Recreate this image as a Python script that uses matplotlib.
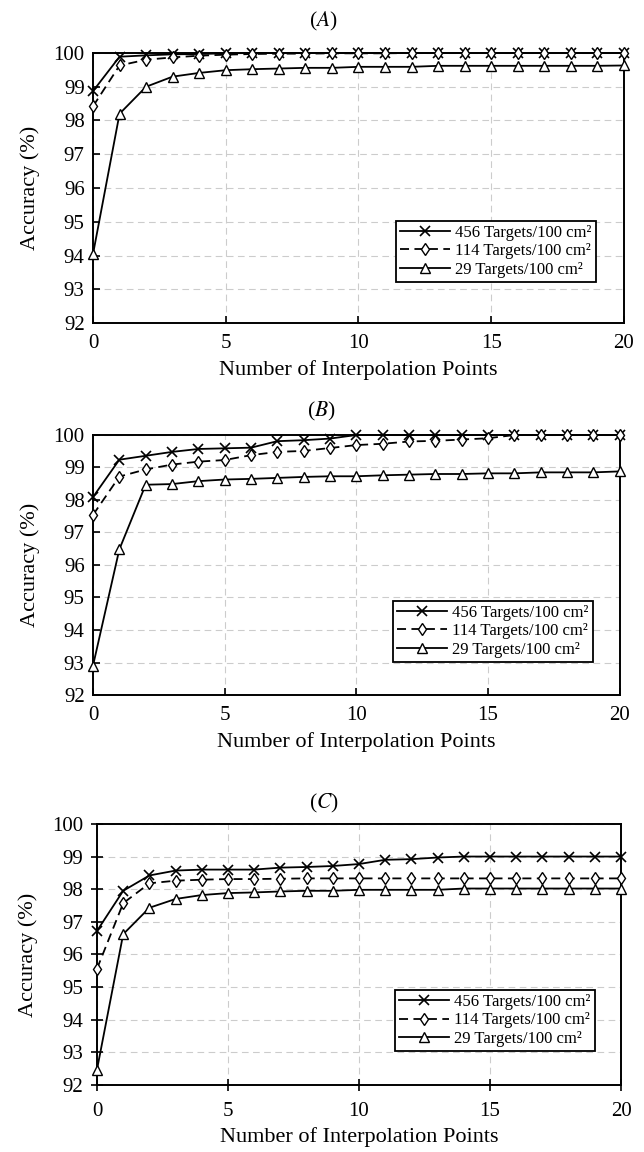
import numpy as np
import matplotlib
matplotlib.use('Agg')
import matplotlib.pyplot as plt

plt.rcParams['font.family'] = ['Liberation Serif', 'DejaVu Serif']
plt.rcParams['mathtext.fontset'] = 'stix'

x_pts = list(range(21))
labels = ['456 Targets/100 cm²', '114 Targets/100 cm²', '29 Targets/100 cm²']

# panel A
a_456 = [98.87, 99.89, 99.93, 99.96, 99.97, 99.99, 100, 100, 100, 100, 100,
         100, 100, 100, 100, 100, 100, 100, 100, 100, 100]
a_114 = [98.42, 99.63, 99.80, 99.87, 99.92, 99.95, 99.97, 99.98, 99.98, 99.99, 99.99,
         99.99, 100, 100, 100, 100, 100, 100, 100, 100, 100]
a_29 = [94.04, 98.20, 99.00, 99.30, 99.41, 99.49, 99.52, 99.54, 99.56, 99.56, 99.59,
        99.59, 99.59, 99.62, 99.62, 99.62, 99.62, 99.62, 99.62, 99.62, 99.63]

# panel B
b_456 = [98.09, 99.24, 99.36, 99.48, 99.57, 99.59, 99.61, 99.81, 99.84, 99.89, 100,
         100, 100, 100, 100, 100, 100, 100, 100, 100, 100]
b_114 = [97.54, 98.72, 98.94, 99.09, 99.18, 99.23, 99.38, 99.48, 99.51, 99.60, 99.69,
         99.73, 99.80, 99.82, 99.86, 99.90, 100, 100, 100, 100, 100]
b_29 = [92.90, 96.48, 98.47, 98.49, 98.58, 98.63, 98.65, 98.68, 98.71, 98.73, 98.73,
        98.76, 98.78, 98.80, 98.80, 98.82, 98.82, 98.85, 98.85, 98.85, 98.88]

# panel C
c_456 = [96.72, 97.95, 98.42, 98.57, 98.60, 98.60, 98.60, 98.66, 98.68, 98.71, 98.77,
         98.90, 98.92, 98.97, 99.0, 99.0, 99.0, 99.0, 99.0, 99.0, 99.0]
c_114 = [95.56, 97.57, 98.18, 98.26, 98.29, 98.31, 98.31, 98.32, 98.33, 98.33, 98.33,
         98.33, 98.33, 98.33, 98.33, 98.33, 98.33, 98.33, 98.33, 98.33, 98.33]
c_29 = [92.47, 96.62, 97.43, 97.70, 97.82, 97.88, 97.90, 97.93, 97.95, 97.95, 97.98,
        97.98, 97.98, 97.98, 98.02, 98.02, 98.02, 98.02, 98.02, 98.02, 98.02]

# name, data, axes rect, legend anchor, tick direction, title y (axes frac)
panels = [
    ('A', [a_456, a_114, a_29], [0.1444, 0.7196, 0.8245, 0.2344], (0.947, 0.152), 'in', 1.115),
    ('B', [b_456, b_114, b_29], [0.1444, 0.3967, 0.8180, 0.2257], (0.949, 0.127), 'in', 1.09),
    ('C', [c_456, c_114, c_29], [0.1506, 0.0582, 0.8137, 0.2266], (0.950, 0.130), 'inout', 1.08),
]

fig = plt.figure(figsize=(6.44, 11.52), dpi=100)

for name, series, rect, leg_anchor, tdir, ty in panels:
    ax = fig.add_axes(rect)
    s456, s114, s29 = series
    ax.plot(x_pts, s456, '-', color='black', lw=1.3, marker='x', ms=7, mew=1.2,
            label=labels[0], clip_on=False, zorder=3)
    ax.plot(x_pts, s114, color='black', lw=1.3, ls=(0, (5, 3)), marker='d', ms=6.5,
            mfc='white', mew=1.0, label=labels[1], clip_on=False, zorder=3)
    ax.plot(x_pts, s29, '-', color='black', lw=1.3, marker='^', ms=7, mfc='white',
            mew=1.0, label=labels[2], clip_on=False, zorder=3)

    ax.set_xlim(0, 20)
    ax.set_ylim(92, 100)
    ax.set_xticks([0, 5, 10, 15, 20])
    ax.set_yticks(np.arange(92, 101, 1))
    ax.grid(True, color='#cccccc', ls=(0, (6, 4)), lw=0.8)
    ax.set_axisbelow(True)
    for sp in ax.spines.values():
        sp.set_linewidth(1.4)
    ax.tick_params(direction=tdir, length=5 if tdir == 'in' else 8, width=1.2,
                   labelsize=15)
    ax.tick_params(axis='x', pad=8)
    ax.tick_params(axis='y', pad=6)

    ax.set_ylabel('Accuracy (%)', fontsize=16, labelpad=10)
    ax.set_xlabel('Number of Interpolation Points', fontsize=16, labelpad=5)
    ax.text(0.433, ty, '($\\mathit{' + name + '}$)', fontsize=15.5,
            transform=ax.transAxes, ha='center', va='center')

    leg = ax.legend(loc='lower right', bbox_to_anchor=leg_anchor, fontsize=12,
                    frameon=True, fancybox=False, edgecolor='black', framealpha=1,
                    handlelength=3.0, handletextpad=0.3, labelspacing=0.15,
                    borderpad=0.25, borderaxespad=0)
    leg.get_frame().set_linewidth(1.3)

fig.savefig('out.png', dpi=100)
